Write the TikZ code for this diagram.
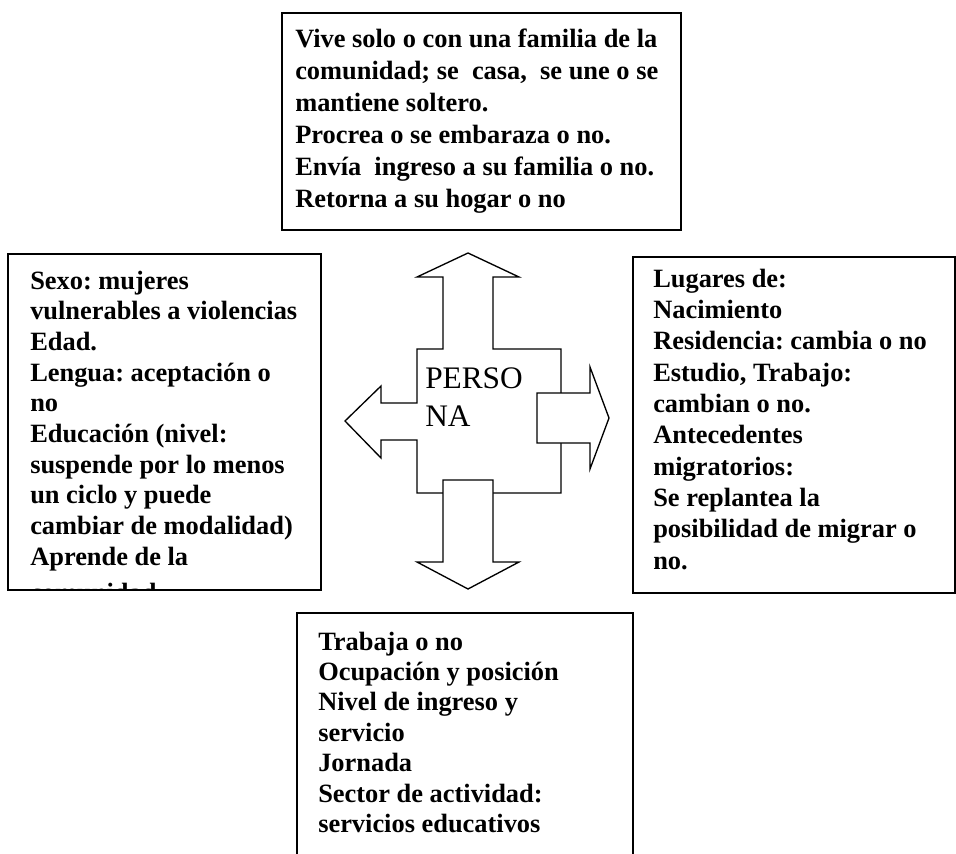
\documentclass[tikz,border=0pt]{standalone}
\usepackage{fontspec}
\setmainfont{Liberation Serif}
\frenchspacing
\begin{document}
\begin{tikzpicture}[x=0.75pt,y=-0.75pt,
  box/.style={draw, line width=1.4pt},
  shp/.style={draw, line width=1pt, fill=white, line join=miter},
  txt/.style={anchor=base west, inner sep=0pt}]
\useasboundingbox (0,0) rectangle (956,853);
\clip (0,0) rectangle (956,853);
\fill[white] (0,0) rectangle (956,853);

% top box
\draw[box] (282,13) rectangle (681,230);
\node[txt] (ttop) at (295,47) {\parbox[t]{380pt}{\raggedright\bfseries\fontsize{19.8pt}{24pt}\selectfont\frenchspacing
Vive solo o con una familia de la\\
comunidad; se\ \ casa,\ \ se une o se\\
mantiene soltero.\\
Procrea o se embaraza o no.\\
Env\'ia\ \ ingreso a su familia o no.\\
Retorna a su hogar o no}};

% left box
\begin{scope}
\clip (8,254) rectangle (321,588.5);
\node[txt] (tleft) at (30,289) {\parbox[t]{300pt}{\raggedright\bfseries\fontsize{19.8pt}{23pt}\selectfont\frenchspacing
Sexo: mujeres\\
vulnerables a violencias\\
Edad.\\
Lengua: aceptaci\'on o\\
no\\
Educaci\'on (nivel:\\
suspende por lo menos\\
un ciclo y puede\\
cambiar de modalidad)\\
Aprende de la\\[4pt]
comunidad}};
\end{scope}
\draw[box] (8,254) rectangle (321,590);

% right box
\draw[box] (633,257) rectangle (955,593);
\node[txt] (tright) at (653,287) {\parbox[t]{300pt}{\raggedright\bfseries\fontsize{19.8pt}{23.5pt}\selectfont\frenchspacing
Lugares de:\\
Nacimiento\\
Residencia: cambia o no\\
Estudio, Trabajo:\\
cambian o no.\\
Antecedentes\\
migratorios:\\
Se replantea la\\
posibilidad de migrar o\\
no.}};

% bottom box
\draw[box] (297,613) rectangle (633,880);
\node[txt] (tbottom) at (318,650) {\parbox[t]{300pt}{\raggedright\bfseries\fontsize{19.8pt}{22.8pt}\selectfont\frenchspacing
Trabaja o no\\
Ocupaci\'on y posici\'on\\
Nivel de ingreso y\\
servicio\\
Jornada\\
Sector de actividad:\\
servicios educativos}};

% central shape: square with up and left arrows
\draw[shp] (417,349) -- (443,349) -- (443,277) -- (417,277) -- (468,253)
  -- (519,277) -- (493,277) -- (493,349) -- (561,349) -- (561,493)
  -- (417,493) -- (417,440) -- (381,440) -- (381,458) -- (345,421)
  -- (381,386) -- (381,403) -- (417,403) -- cycle;
\node[txt] (persona) at (425,388) {\parbox[t]{120pt}{\raggedright\fontsize{23.5pt}{29pt}\selectfont
PERSO\\
NA}};
% right arrow
\draw[shp] (537,393) -- (590,393) -- (590,367) -- (609,418) -- (590,469)
  -- (590,443) -- (537,443) -- cycle;
% down arrow
\draw[shp] (443,480) -- (493,480) -- (493,562) -- (519,562) -- (468,589)
  -- (417,562) -- (443,562) -- cycle;
\end{tikzpicture}
\end{document}
